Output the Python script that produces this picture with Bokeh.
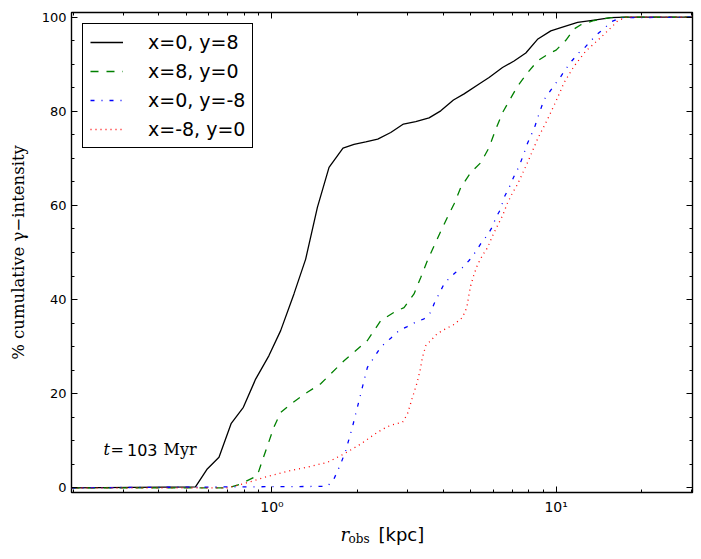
from bokeh.plotting import figure
from bokeh.layouts import column
from bokeh.models import (Range1d, FixedTicker, LogAxis, LinearAxis, Legend,
                          LegendItem, Label, CustomJSTickFormatter)
from bokeh.embed import file_html
from bokeh.resources import INLINE

# ---------------- data ----------------
labels = ["x=0, y=8", "x=8, y=0", "x=0, y=-8", "x=-8, y=0"]
colors = ["#000000", "#008000", "#0000ff", "#ff0000"]
dashes = ["solid", "8 8", "4 7 1 7", "1 4"]

r_a = [0.197, 0.538, 0.592, 0.651, 0.719, 0.793, 0.876, 0.976, 1.073, 1.195,
       1.314, 1.445, 1.588, 1.778, 1.944, 2.138, 2.356, 2.618, 2.902, 3.206,
       3.572, 3.926, 4.352, 4.744, 5.357, 5.808, 6.476, 7.113, 7.823, 8.601,
       9.579, 10.53, 11.90, 13.61, 15.58, 17.6, 30.2]
c_a = [0, 0.2, 4.0, 6.5, 13.7, 17.1, 23.1, 28.1, 33.4, 41.2,
       48.6, 59.6, 68.1, 72.2, 73.0, 73.5, 74.1, 75.5, 77.3, 77.8,
       78.6, 80.1, 82.4, 83.7, 85.8, 87.2, 89.3, 90.7, 92.4, 95.3,
       97.1, 97.9, 98.9, 99.4, 99.9, 100, 100]

r_b = [0.197, 0.70, 0.776, 0.888, 0.925, 1.016, 1.073, 1.164, 1.332, 1.484,
       1.793, 2.167, 2.414, 2.689, 2.916, 3.162, 3.339, 3.526, 3.720, 3.926,
       4.146, 4.373, 4.618, 5.008, 5.432, 5.808, 6.134, 6.476, 6.832, 7.313,
       7.932, 8.601, 9.449, 10.0, 10.82, 11.57, 12.22, 13.61, 15.58, 17.6, 30.2]
c_b = [0, 0, 0.8, 2.6, 5.8, 12.9, 16.0, 17.8, 20.3, 22.1,
       27.0, 31.3, 35.5, 37.3, 38.3, 41.2, 44.7, 48.3, 51.4, 54.5,
       57.5, 60.3, 63.8, 67.0, 69.1, 72.3, 76.2, 79.7, 82.2, 85.3,
       88.2, 90.7, 92.3, 93.0, 95.1, 97.5, 98.4, 99.3, 99.9, 100, 100]

r_c = [0.197, 1.567, 1.653, 1.746, 1.818, 1.919, 1.998, 2.081, 2.167, 2.287,
       2.414, 2.618, 2.801, 2.981, 3.206, 3.429, 3.621, 3.720, 3.873, 4.033,
       4.200, 4.436, 4.682, 4.940, 5.217, 5.432, 5.734, 5.970, 6.134, 6.351,
       6.598, 6.832, 7.113, 7.408, 7.677, 7.932, 8.4, 8.713, 9.073, 9.579,
       10.36, 10.82, 11.35, 12.05, 12.6, 13.25, 13.9, 14.76, 15.6, 16.89, 30.2]
c_c = [0, 0.3, 1.9, 5.1, 7.9, 12.9, 17.1, 21.4, 25.6, 27.7,
       29.9, 31.8, 33.4, 34.2, 35.2, 35.9, 37.3, 39.1, 41.2, 43.3,
       44.5, 45.8, 46.8, 48.3, 50.2, 51.9, 53.7, 55.5, 57.4, 59.0,
       62.0, 63.8, 66.2, 68.3, 70.8, 73.2, 76.6, 79.5, 82.5, 84.5,
       87.3, 89.0, 90.7, 92.5, 93.5, 95.0, 96.3, 97.6, 99.0, 99.9, 100]

r_d = [0.197, 0.697, 0.776, 0.864, 0.963, 1.133, 1.332, 1.567, 1.793, 2.053,
       2.350, 2.549, 2.726, 2.879, 2.998, 3.122, 3.232, 3.320, 3.385, 3.477,
       3.621, 3.823, 4.089, 4.373, 4.682, 4.849, 4.940, 5.008, 5.145, 5.289,
       5.508, 5.734, 5.970, 6.134, 6.476, 6.744, 7.0, 7.313, 7.932, 8.601,
       9.327, 10.0, 10.67, 11.57, 12.72, 14.37, 15.80, 16.45, 17.6, 30.2]
c_d = [0, 0, 0.7, 1.5, 2.4, 3.5, 4.4, 5.4, 7.2, 9.3,
       11.8, 13.0, 13.6, 13.9, 15.7, 19.2, 22.1, 24.9, 27.7, 30.2,
       31.3, 32.8, 33.8, 34.7, 36.2, 38.3, 41.2, 43.0, 45.4, 47.4,
       49.4, 51.0, 53.5, 55.0, 57.8, 60.5, 62.5, 64.5, 69.1, 74.1,
       78.3, 82.2, 86.1, 89.6, 92.8, 95.7, 98.1, 99.2, 100, 100]

series_r = [r_a, r_b, r_c, r_d]
series_c = [c_a, c_b, c_c, c_d]

x_major = [1, 10]
x_minor = [0.2, 0.3, 0.4, 0.5, 0.6, 0.7, 0.8, 0.9, 2, 3, 4, 5, 6, 7, 8, 9, 20, 30]
y_major = [0, 20, 40, 60, 80, 100]
y_minor = list(range(0, 101, 5))

W = 700
# ---------------- main figure ----------------
p = figure(x_axis_type="log", x_range=Range1d(0.197, 30.2), y_range=Range1d(-1, 101),
           width=W, height=520,
           min_border_left=71, min_border_right=8, min_border_top=12, min_border_bottom=28,
           output_backend="svg", toolbar_location=None)
p.background_fill_color = "white"
p.border_fill_color = "white"
p.xgrid.visible = False
p.ygrid.visible = False
p.outline_line_color = "black"
p.outline_line_width = 1.4
p.outline_line_alpha = 1.0

xt = FixedTicker(ticks=x_major, minor_ticks=x_minor)
yt = FixedTicker(ticks=y_major, minor_ticks=y_minor)

fmt = CustomJSTickFormatter(code="""
const sup = {"-":"\u207b","0":"\u2070","1":"\u00b9","2":"\u00b2","3":"\u00b3","4":"\u2074",
             "5":"\u2075","6":"\u2076","7":"\u2077","8":"\u2078","9":"\u2079"};
const e = String(Math.round(Math.log10(tick)));
return "10" + e.split("").map(c => sup[c]).join("");
""")
blank = CustomJSTickFormatter(code="return '';")

def style_axis(ax, show_labels):
    ax.axis_line_color = None
    ax.major_tick_in = 6
    ax.major_tick_out = 0
    ax.minor_tick_in = 3
    ax.minor_tick_out = 0
    ax.major_tick_line_color = "black"
    ax.minor_tick_line_color = "black"
    ax.major_tick_line_width = 1
    ax.minor_tick_line_width = 1
    if show_labels:
        ax.major_label_text_font = "DejaVu Sans"
        ax.major_label_text_font_size = "13px"
        ax.major_label_text_color = "black"
    else:
        ax.formatter = blank
        ax.major_label_text_font_size = "0px"
        ax.major_label_text_color = None
        ax.major_label_standoff = 0

xa = p.xaxis[0]
xa.ticker = xt
xa.formatter = fmt
style_axis(xa, True)
xa.major_label_text_font_size = "14px"
xa.major_label_standoff = 6

ya = p.yaxis[0]
ya.ticker = yt
style_axis(ya, True)
ya.major_label_standoff = 5
ya.axis_label = "% cumulative \u03b3\u2212intensity"
ya.axis_label_text_font = "DejaVu Serif"
ya.axis_label_text_font_size = "16.5px"
ya.axis_label_text_font_style = "normal"
ya.axis_label_text_color = "black"
ya.axis_label_standoff = 11

top = LogAxis(ticker=xt)
style_axis(top, False)
p.add_layout(top, "above")
right = LinearAxis(ticker=yt)
style_axis(right, False)
p.add_layout(right, "right")

items = []
for lab, col, dsh, rr, cc in zip(labels, colors, dashes, series_r, series_c):
    rnd = p.line(rr, cc, line_color=col, line_width=1.3, line_dash=dsh)
    items.append(LegendItem(label=lab, renderers=[rnd]))

leg = Legend(items=items, location="top_left")
leg.label_text_font = "DejaVu Sans"
leg.label_text_font_size = "19px"
leg.label_text_color = "black"
leg.border_line_color = "black"
leg.border_line_width = 1
leg.border_line_alpha = 1
leg.background_fill_color = "white"
leg.background_fill_alpha = 1
leg.padding = 7
leg.spacing = 7
leg.margin = 11
leg.glyph_width = 33
leg.glyph_height = 20
leg.label_height = 20
leg.label_standoff = 25
p.add_layout(leg)

def lab(fig, text, x, y, font, size, style="normal"):
    fig.add_layout(Label(x=x, y=y, x_units="screen", y_units="screen", text=text,
                         text_font=font, text_font_size=size, text_font_style=style,
                         text_color="black", text_align="left", text_baseline="alphabetic"))

# annotation t = 103 Myr (inside the frame)
lab(p, "t", 32, 43, "DejaVu Serif", "16px", "italic")
lab(p, "=", 39, 43, "DejaVu Serif", "16px")
lab(p, "103", 55.5, 43, "DejaVu Sans", "16px")
lab(p, "Myr", 92, 43, "DejaVu Serif", "16px")

# ---------------- strip below for the x-axis label ----------------
q = figure(width=W, height=38, x_range=Range1d(0, W), y_range=Range1d(0, 38),
           min_border=0, x_axis_location=None, y_axis_location=None,
           output_backend="svg", toolbar_location=None)
q.outline_line_color = None
q.xgrid.visible = False
q.ygrid.visible = False
q.background_fill_color = "white"
q.border_fill_color = "white"
lab(q, "r", 269, 24, "DejaVu Serif", "18px", "italic")
lab(q, "obs", 277, 20, "DejaVu Serif", "12px")
lab(q, "[kpc]", 307, 24, "DejaVu Sans", "18px")

open("out.html", "w").write(file_html(column(p, q), INLINE))
